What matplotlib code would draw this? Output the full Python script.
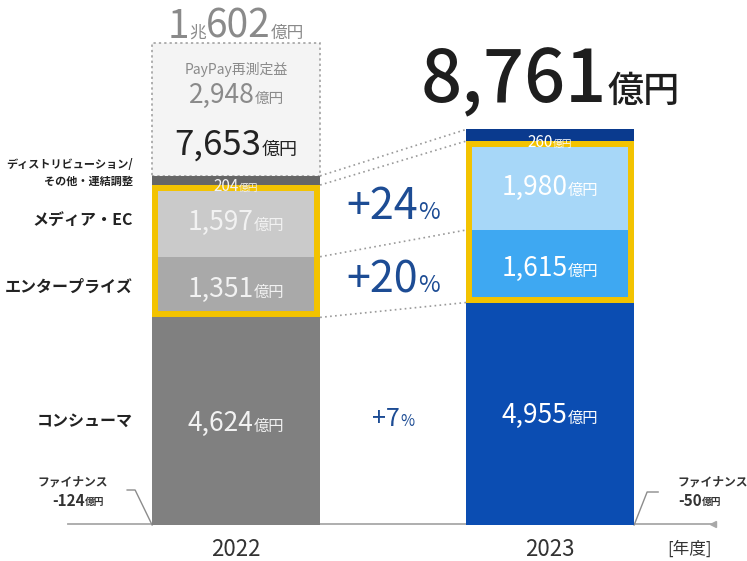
import matplotlib
matplotlib.use("Agg")
import matplotlib.pyplot as plt
from matplotlib.transforms import offset_copy

plt.rcParams['font.family'] = ['Noto Sans CJK JP', 'DejaVu Sans']

# 億円, stacked bottom -> top
years = ['2022', '2023']
segment_names = ['コンシューマ', 'エンタープライズ', 'メディア・EC',
                 'ディストリビューション/\nその他・連結調整']
values_2022 = [4624, 1351, 1597, 204]
values_2023 = [4955, 1615, 1980, 260]
finance = [-124, -50]
totals = ['7,653', '8,761']
paypay_gain = '2,948'
gross_2022 = ('1', '兆', '602')

colors_2022 = ['#808080', '#a9a9a9', '#cacaca', '#666666']
colors_2023 = ['#0b4db2', '#3ea8f2', '#a7d7f8', '#0a3a8e']
frame_color = '#f3c300'
pct_color = '#1d4c94'
unit = '億円'

SCALE = 0.0449   # px per 億円
fig = plt.figure(figsize=(7.47, 5.61), dpi=100)
ax = fig.add_axes([0, 0, 1, 1])
ax.set_xlim(-0.752, 1.627)
ax.set_ylim(-36 / SCALE, 525 / SCALE)
ax.axis('off')
renderer = fig.canvas.get_renderer()

W = 168 / 314
x_pos = [0, 1]


def px(xp, yp):
    return (xp - 236) / 314, (525 - yp) / SCALE


def put(x, y, parts, color, weight='normal', zorder=6):
    # centred run of mixed-size text, digits vertically centred on y
    big = max(fs for _, fs in parts)
    texts = [ax.text(x, y, s, fontsize=fs, color=color, ha='left', va='baseline',
                     fontweight=weight, zorder=zorder) for s, fs in parts]
    widths = [t.get_window_extent(renderer).width for t in texts]
    cur = -sum(widths) / 2
    for t, w in zip(texts, widths):
        t.set_transform(offset_copy(ax.transData, fig=fig, x=cur,
                                    y=-0.36 * big * 100 / 72, units='dots'))
        cur += w


def fmt(v):
    return f'{v:,}'


# stacked bars
for xi, vals, cols in [(0, values_2022, colors_2022), (1, values_2023, colors_2023)]:
    bottom = 0
    for v, c in zip(vals, cols):
        ax.bar(xi, v, bottom=bottom, width=W, color=c, zorder=2)
        bottom += v

# PayPay remeasurement box on top of 2022
top_2022 = sum(values_2022)
ax.bar(0, 2948, bottom=top_2022, width=W, facecolor='#f4f4f4', edgecolor='#9a9a9a',
       linestyle=(0, (1.5, 2)), linewidth=1.1, zorder=1)

# yellow frames around enterprise + media
inset = 6 / 314
for xi, vals in [(0, values_2022), (1, values_2023)]:
    ax.bar(xi, vals[1] + vals[2] - 6 / SCALE, bottom=vals[0] + 3 / SCALE,
           width=W - inset, fill=False, edgecolor=frame_color, linewidth=4.3, zorder=3)

# dotted connectors between segment boundaries
cum_a = [sum(values_2022[:i + 1]) for i in range(4)]
cum_b = [sum(values_2023[:i + 1]) for i in range(4)]
for a, b in zip(cum_a, cum_b):
    ax.plot([W / 2, 1 - W / 2], [a, b], color='#9a9a9a', linestyle=(0, (1, 2)),
            linewidth=1.2, zorder=1)

# value labels inside segments
num_sizes = [19, 19, 19, 11]
unit_sizes = [11, 11, 11, 7]
for xi, vals, tc in [(0, values_2022, '#f2f2f2'), (1, values_2023, '#ffffff')]:
    bottom = 0
    for i, v in enumerate(vals):
        y = bottom + v / 2 if i < 3 else bottom
        put(xi, y, [(fmt(v), num_sizes[i]), (unit, unit_sizes[i])], tc)
        bottom += v

# category labels on the left
lx = (133 - 236) / 314
bottom = 0
for i, (name, v) in enumerate(zip(segment_names, values_2022)):
    if i < 3:
        ax.text(lx, bottom + v / 2, name, ha='right', va='center', fontsize=11.5,
                fontweight='bold', color='#222222')
    else:
        ax.text(lx, bottom + v + 60, name, ha='right', va='center', fontsize=8,
                fontweight='bold', color='#222222', linespacing=1.35)
    bottom += v

# growth rates between the bars
lo_a, lo_b = 0, 0
for i in range(3):
    a, b = values_2022[i], values_2023[i]
    pct = round((b / a - 1) * 100)
    ymid = (lo_a + lo_b + cum_a[i] + cum_b[i]) / 4
    if i == 0:
        put(0.5, ymid, [(f'+{pct}', 18), ('%', 11)], pct_color)
    else:
        put(0.5, ymid, [(f'+{pct}', 31), ('%', 17)], pct_color)
    lo_a, lo_b = cum_a[i], cum_b[i]

# totals
grey = '#8a8a8a'
put(0, px(0, 142)[1], [(totals[0], 25), (unit, 13)], '#222222')
ax.text(0, px(0, 70)[1], 'PayPay再測定益', ha='center', va='center', fontsize=10, color=grey)
put(0, px(0, 93)[1], [(paypay_gain, 19), (unit, 10.5)], grey)
put(0, px(0, 24)[1], [(gross_2022[0], 28), (gross_2022[1], 12),
                      (gross_2022[2], 28), (unit, 12)], grey)
put(1, px(0, 76)[1], [(totals[1], 52), (unit, 26)], '#1e1e1e', weight='medium')

# baseline and years
bx0, by = px(68, 524)
bx1, _ = px(713, 524)
ax.plot([bx0, bx1], [by, by], color='#a8a8a8', linewidth=1.3, zorder=1)
ax.plot([bx1], [by], marker='<', markersize=5, color='#a8a8a8', zorder=1)
for xi, yr in zip(x_pos, years):
    ax.text(xi, px(0, 549)[1], yr, ha='center', va='center', fontsize=16, color='#333333')
ax.text(px(689, 0)[0], px(0, 549)[1], '[年度]', ha='center', va='center',
        fontsize=12, color='#333333')

# finance callouts
lead = '#8c8c8c'
xs, ys = zip(px(127, 490), px(135, 490), px(152, 525))
ax.plot(xs, ys, color=lead, linewidth=1, zorder=1)
xs, ys = zip(px(634, 525), px(647, 492), px(658, 492))
ax.plot(xs, ys, color=lead, linewidth=1, zorder=1)
ax.text(*px(73, 482), 'ファイナンス', ha='center', va='center', fontsize=8.5,
        fontweight='bold', color='#333333')
put(px(78, 0)[0], px(0, 500)[1], [(str(finance[0]), 11), (unit, 7)], '#333333', weight='bold')
ax.text(*px(677, 482), 'ファイナンス', ha='left', va='center', fontsize=8.5,
        fontweight='bold', color='#333333')
put(px(700, 0)[0], px(0, 500)[1], [(str(finance[1]), 11), (unit, 7)], '#333333', weight='bold')

fig.savefig('out.png', dpi=100)
